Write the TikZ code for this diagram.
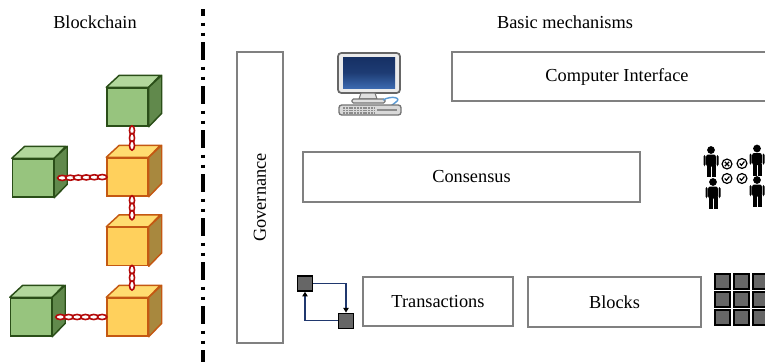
\documentclass[tikz,border=0pt]{standalone}
\usepackage{fontspec}
\setmainfont{Liberation Serif}
\usepackage{tikz}
\usetikzlibrary{calc,arrows.meta}

\definecolor{boxgray}{RGB}{128,128,128}
\definecolor{gfront}{RGB}{151,196,126}
\definecolor{gtop}{RGB}{178,215,156}
\definecolor{gside}{RGB}{97,137,76}
\definecolor{gline}{RGB}{42,78,24}
\definecolor{yfront}{RGB}{255,208,92}
\definecolor{ytop}{RGB}{255,220,112}
\definecolor{yside}{RGB}{168,136,62}
\definecolor{yline}{RGB}{196,88,18}
\definecolor{chainred}{RGB}{180,10,10}
\definecolor{cable}{RGB}{91,155,213}
\definecolor{navyline}{RGB}{32,56,110}
\definecolor{screendark}{RGB}{22,48,100}
\definecolor{screenlight}{RGB}{60,105,175}

\tikzset{
  mechbox/.style={draw=boxgray, line width=1.1pt, inner sep=0pt},
  gcube/.style={draw=gline, fill=gfront, line width=1.1pt, inner sep=0pt,
    minimum width=30.75pt, minimum height=28.5pt},
  ycube/.style={draw=yline, fill=yfront, line width=1.1pt, inner sep=0pt,
    minimum width=30.75pt, minimum height=28.5pt},
  chainlink/.style={draw=chainred, fill=white, line width=1.2pt},
  txsquare/.style={draw=black, fill=black!60, line width=1.1pt, inner sep=0pt,
    minimum size=11.25pt},
  blocksquare/.style={draw=black, fill=black!60, line width=1.3pt, inner sep=0pt,
    minimum size=11.25pt},
  txarrow/.style={draw=navyline, line width=0.8pt,
    -{Triangle[black, width=4pt, length=3.5pt]}},
}

% top and side faces of a cube: node, top colour, side colour, line colour
\newcommand{\cubefaces}[4]{%
  \filldraw[fill=#2, draw=#4, line width=1.1pt, line join=round]
    (#1.north west) -- ++(13,-12) -- ++(41,0) -- (#1.north east) -- cycle;
  \filldraw[fill=#3, draw=#4, line width=1.1pt, line join=round]
    (#1.north east) -- ++(13,-12) -- ++(0,38) -- (#1.south east) -- cycle;
}

% one person of the voting icon, head centre at (#1,#2)
\newcommand{\voter}[2]{%
  \fill (#1,#2) circle (2.9pt);
  \fill[rounded corners=1.5pt] (#1-4.8,#2+4.5) rectangle (#1+4.8,#2+16.5);
  \fill[rounded corners=1pt] (#1-7.5,#2+5) rectangle (#1-5.5,#2+16);
  \fill[rounded corners=1pt] (#1+5.5,#2+5) rectangle (#1+7.5,#2+16);
  \fill (#1-4.5,#2+15) rectangle (#1-0.5,#2+27);
  \fill (#1+0.5,#2+15) rectangle (#1+4.5,#2+27);
}

\begin{document}
\begin{tikzpicture}[x=0.75pt, y=-0.75pt,
    every node/.style={font=\fontsize{13.75}{16}\selectfont}]
  \useasboundingbox (0,0) rectangle (765,362);
  \clip (0,0) rectangle (765,362);

  % headings
  \node (chaintitle) at (95,22) {Blockchain};
  \node (mechtitle) at (565,22) {Basic mechanisms};

  % separator
  \draw[line width=2.3pt, dash pattern=on 13.5pt off 4.9pt on 2.25pt off 5.25pt on 2.25pt off 4.85pt,
        dash phase=8.25pt] (203,9) -- (203,362);

  % blocks of the chain
  \node[gcube] (g0) at (127.5,107) {};
  \node[ycube] (y1) at (127.5,177) {};
  \node[ycube] (y2) at (127.5,246.5) {};
  \node[ycube] (y3) at (127.5,317) {};
  \node[gcube] (gl1) at (33,178) {};
  \node[gcube] (gl2) at (31,317) {};
  \cubefaces{g0}{gtop}{gside}{gline}
  \cubefaces{y1}{ytop}{yside}{yline}
  \cubefaces{y2}{ytop}{yside}{yline}
  \cubefaces{y3}{ytop}{yside}{yline}
  \cubefaces{gl1}{gtop}{gside}{gline}
  \cubefaces{gl2}{gtop}{gside}{gline}

  % vertical chains
  \foreach \up/\down in {g0/y1, y1/y2, y2/y3} {
    \coordinate (cs) at ($(\up.south)+(4.5,0)$);
    \coordinate (ce) at ($(\down.north)+(4.5,-8)$);
    \draw[cable, line width=0.6pt] (cs) -- (ce);
    \foreach \k in {0,1,2}
      \draw[chainlink] ($(cs)!{(\k+0.5)/3}!(ce)$) ellipse [x radius=1.9pt, y radius=3.5pt];
  }
  % side chains
  \foreach \side/\main in {gl1/y1, gl2/y3} {
    \coordinate (cs) at ($(\side.east)+(4,0)$);
    \coordinate (ce) at (\main.west);
    \foreach \k in {0,...,5}
      \draw[chainlink] ($(cs)!{(\k+0.5)/6}!(ce)$) ellipse [x radius=3.5pt, y radius=1.9pt];
  }

  % mechanism boxes
  \node[mechbox, rotate=90, minimum width=218.25pt, minimum height=34.5pt]
    (gov) at (260,197.5) {Governance};
  \node[mechbox, minimum width=247.5pt, minimum height=36.75pt]
    (iface) at (617,76.5) {Computer Interface};
  \node[mechbox, minimum width=252.75pt, minimum height=37.5pt]
    (cons) at (471.5,177) {Consensus};
  \node[mechbox, minimum width=112.5pt, minimum height=36.75pt]
    (tx) at (438,301.5) {Transactions};
  \node[mechbox, minimum width=129.75pt, minimum height=37.5pt]
    (blk) at (614.5,302) {Blocks};

  % computer
  \filldraw[fill=black!8, draw=black!60, line width=1.3pt, rounded corners=2.5pt]
    (338,53) rectangle (400,93);
  \shade[top color=screendark, bottom color=screenlight, middle color=screendark!80!screenlight]
    (343,57) rectangle (395,88);
  \filldraw[fill=black!12, draw=black!55, line width=0.8pt]
    (361,93) -- (375,93) -- (377,99) -- (359,99) -- cycle;
  \filldraw[fill=black!12, draw=black!55, line width=0.8pt, rounded corners=1pt]
    (352,99) rectangle (385,103);
  \draw[cable, line width=1.1pt]
    (383,100) .. controls (392,95) and (402,98) .. (396,102) -- (391,106);
  \filldraw[fill=black!15, draw=black!55, line width=1pt, rounded corners=2pt]
    (339,105) rectangle (401,115);
  \foreach \r in {108,110.5,113}
    \draw[black!45, line width=1pt, dash pattern=on 1.5pt off 0.6pt] (343,\r) -- (374,\r);
  \draw[black!45, line width=2pt] (377,110) -- (397,110);

  % voting icon
  \voter{711}{150}
  \voter{757}{148.5}
  \voter{713}{182}
  \voter{757}{180}
  \foreach \cx/\cy in {727/164, 742/163.5, 727/178.5, 742/178.5}
    \draw[line width=0.9pt] (\cx,\cy) circle (3.7pt);
  \draw[line width=0.9pt] (724.8,161.8) -- (729.2,166.2) (724.8,166.2) -- (729.2,161.8);
  \foreach \cx/\cy in {742/163.5, 727/178.5, 742/178.5}
    \draw[line width=0.9pt] (\cx-2.3,\cy) -- (\cx-0.6,\cy+1.8) -- (\cx+2.4,\cy-2);

  % transaction cycle
  \node[txsquare] (ta) at (305,283.5) {};
  \node[txsquare] (tb) at (346,320.8) {};
  \draw[txarrow] (ta.east) -| (tb.north);
  \draw[txarrow] (tb.west) -| (ta.south);

  % block grid
  \foreach \i in {0,1,2}
    \foreach \j in {0,1,2}
      \node[blocksquare] (bg-\i-\j) at (722.5+19*\i,281.5+18*\j) {};
\end{tikzpicture}
\end{document}
